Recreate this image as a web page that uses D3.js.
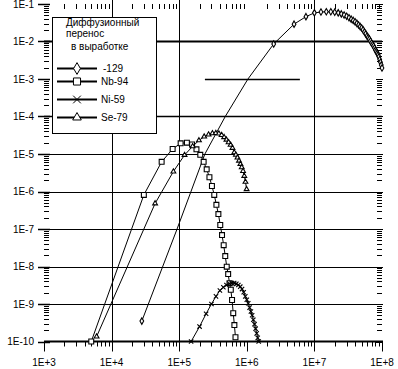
<!DOCTYPE html>
<html><head><meta charset="utf-8">
<script src="https://cdn.jsdelivr.net/npm/d3@7"></script>
<style>
body{margin:0;background:#fff;}
svg{display:block;font-family:"Liberation Sans",Arial,sans-serif;}
</style></head>
<body><svg id="c" width="398" height="369"></svg>
<script>
// ---- data ----
const xTickLabels = ["1E+3","1E+4","1E+5","1E+6","1E+7","1E+8"];
const xTickValues = [1e3,1e4,1e5,1e6,1e7,1e8];
const yTickLabels = ["1E-1","1E-2","1E-3","1E-4","1E-5","1E-6","1E-7","1E-8","1E-9","1E-10"];
const yTickValues = [1e-1,1e-2,1e-3,1e-4,1e-5,1e-6,1e-7,1e-8,1e-9,1e-10];

const legendTitle = ["Диффузионный","перенос","в выработке"];
const seriesNames = ["-129","Nb-94","Ni-59","Se-79"];

// I-129 (diamond); mark flag 1 = marker drawn
const i129X = [2.8e4,9.3e4,2.4e5,4.8e5,1.04e6,2.5e6,5e6,7.5e6,1e7,1.25e7,1.5e7,1.75e7,2e7,2.25e7,2.5e7,2.75e7,3e7,3.25e7,3.5e7,3.75e7,4e7,4.25e7,4.5e7,4.75e7,5e7,5.25e7,5.5e7,5.75e7,6e7,6.25e7,6.5e7,6.75e7,7e7,7.25e7,7.5e7,7.75e7,8e7,8.25e7,8.5e7,8.75e7,9e7,9.25e7,9.5e7,9.75e7,1e8];
const i129Y = [3.5e-10,1e-7,1e-5,1e-4,1e-3,8.6e-3,2.9e-2,4.6e-2,5.8e-2,6.1e-2,6.2e-2,6.2e-2,6.05e-2,5.8e-2,5.45e-2,5.1e-2,4.7e-2,4.3e-2,3.95e-2,3.65e-2,3.35e-2,3.05e-2,2.75e-2,2.5e-2,2.29e-2,2.05e-2,1.8e-2,1.6e-2,1.4e-2,1.28e-2,1.17e-2,1.03e-2,9.1e-3,8.3e-3,7.6e-3,6.7e-3,5.9e-3,5.4e-3,4.9e-3,4.4e-3,3.9e-3,3.3e-3,2.8e-3,2.35e-3,1.96e-3];
const i129Mark = [1,0,0,0,0,1,1,1,1,1,1,1,1,1,1,1,1,1,1,1,1,1,1,1,1,1,1,1,1,1,1,1,1,1,1,1,1,1,1,1,1,1,1,1,1];

// Nb-94 (square)
const nb94X = [5e3,3e4,5.5e4,8e4,1.05e5,1.3e5,1.55e5,1.8e5,2.05e5,2.3e5,2.55e5,2.8e5,3.05e5,3.3e5,3.55e5,3.8e5,4.05e5,4.3e5,4.55e5,4.8e5,5.05e5,5.3e5,5.55e5,5.8e5,6.05e5,6.3e5,6.55e5,6.8e5];
const nb94Y = [1e-10,8.1e-7,6.2e-6,1.36e-5,1.93e-5,2.0e-5,1.8e-5,1.33e-5,9.5e-6,6.2e-6,3.9e-6,2.4e-6,1.4e-6,8.1e-7,4.4e-7,2.5e-7,1.28e-7,6.9e-8,3.7e-8,1.9e-8,9.9e-9,6.3e-9,3.6e-9,2.4e-9,1.28e-9,5.7e-10,2.75e-10,1.3e-10];

// Ni-59 (cross)
const ni59X = [1.5e5,2e5,2.5e5,3e5,3.5e5,4e5,4.5e5,5e5,5.5e5,6e5,6.5e5,7e5,7.5e5,8e5,8.5e5,9e5,9.5e5,1e6,1.05e6,1.1e6,1.15e6,1.2e6,1.25e6,1.3e6,1.35e6,1.4e6,1.45e6,1.5e6];
const ni59Y = [1e-10,2.5e-10,5.5e-10,1.0e-9,1.6e-9,2.3e-9,2.8e-9,3.2e-9,3.5e-9,3.6e-9,3.6e-9,3.45e-9,3.2e-9,2.9e-9,2.5e-9,2.05e-9,1.6e-9,1.3e-9,1.05e-9,8e-10,6.3e-10,5e-10,3.8e-10,2.9e-10,2.2e-10,1.65e-10,1.25e-10,1.0e-10];

// Se-79 (triangle)
const se79X = [6e3,4.4e4,8.2e4,1.2e5,1.58e5,1.96e5,2.34e5,2.72e5,3.1e5,3.48e5,3.86e5,4.24e5,4.62e5,5.0e5,5.38e5,5.76e5,6.14e5,6.52e5,6.9e5,7.28e5,7.66e5,8.04e5,8.42e5,8.8e5,9.18e5,9.56e5,9.94e5];
const se79Y = [1.35e-10,4.8e-7,3.4e-6,9.4e-6,1.6e-5,2.3e-5,2.9e-5,3.3e-5,3.55e-5,3.6e-5,3.5e-5,3.2e-5,2.8e-5,2.4e-5,2.05e-5,1.75e-5,1.45e-5,1.1e-5,9.5e-6,8e-6,6.6e-6,5.4e-6,4.4e-6,3.5e-6,2.6e-6,1.8e-6,1.15e-6];

// ---- chart ----
const svg = d3.select("#c");
const x = d3.scaleLog().domain([1e3,1e8]).range([44,382]);
const y = d3.scaleLog().domain([1e-10,1e-1]).range([341.5,4]);

const g = svg.append("g");

// horizontal grid lines
const hGrid = [
  {v:1e-2, x0:1e3, x1:1e8, w:2},
  {v:1e-3, x0:2.4e5, x1:6.1e6, w:1.5},
  {v:1e-4, x0:1e3, x1:1e8, w:1.5},
  {v:1e-5, x0:1e3, x1:1e8, w:1},
  {v:1e-6, x0:1e3, x1:1e8, w:1},
  {v:1e-7, x0:1e3, x1:1e8, w:1},
  {v:1e-8, x0:1e3, x1:1e8, w:1},
  {v:1e-9, x0:1e3, x1:1e8, w:1}
];
g.selectAll("line.hg").data(hGrid).enter().append("line")
  .attr("x1",d=>x(d.x0)).attr("x2",d=>x(d.x1))
  .attr("y1",d=>Math.round(y(d.v))+0.5).attr("y2",d=>Math.round(y(d.v))+0.5)
  .attr("stroke","#000").attr("stroke-width",d=>d.w);

// vertical grid lines
const vGrid = [1e4,1e5,1e7];
g.selectAll("line.vg").data(vGrid).enter().append("line")
  .attr("x1",d=>Math.round(x(d))+0.5).attr("x2",d=>Math.round(x(d))+0.5)
  .attr("y1",0).attr("y2",y(1e-10))
  .attr("stroke","#000").attr("stroke-width",1);

// bottom axis line
g.append("line").attr("x1",x(1e3)).attr("x2",x(1e8)+1)
  .attr("y1",y(1e-10)).attr("y2",y(1e-10)).attr("stroke","#000").attr("stroke-width",2);

// minor tick positions
const xMinor = [], yMinor = [];
for (let e=3;e<8;e++) for (let m=2;m<10;m++) xMinor.push(m*Math.pow(10,e));
for (let e=-10;e<-1;e++) for (let m=2;m<10;m++) yMinor.push(m*Math.pow(10,e));

// bottom ticks (outside)
g.selectAll("line.bm").data(xMinor).enter().append("line")
  .attr("x1",d=>Math.round(x(d))+0.5).attr("x2",d=>Math.round(x(d))+0.5)
  .attr("y1",y(1e-10)).attr("y2",y(1e-10)+5).attr("stroke","#000");
g.selectAll("line.bM").data(xTickValues).enter().append("line")
  .attr("x1",d=>Math.round(x(d))+0.5).attr("x2",d=>Math.round(x(d))+0.5)
  .attr("y1",y(1e-10)).attr("y2",y(1e-10)+10).attr("stroke","#000");
// top ticks (inside)
g.selectAll("line.tm").data(xMinor).enter().append("line")
  .attr("x1",d=>Math.round(x(d))+0.5).attr("x2",d=>Math.round(x(d))+0.5)
  .attr("y1",4).attr("y2",9).attr("stroke","#000");
// left ticks
g.selectAll("line.lm").data(yMinor).enter().append("line")
  .attr("x1",x(1e3)).attr("x2",x(1e3)+5)
  .attr("y1",d=>Math.round(y(d))+0.5).attr("y2",d=>Math.round(y(d))+0.5).attr("stroke","#000");
g.selectAll("line.lM").data(yTickValues).enter().append("line")
  .attr("x1",x(1e3)-6).attr("x2",x(1e3)+6)
  .attr("y1",d=>Math.round(y(d))+0.5).attr("y2",d=>Math.round(y(d))+0.5).attr("stroke","#000").attr("stroke-width",1.5);
// right ticks
g.selectAll("line.rm").data(yMinor).enter().append("line")
  .attr("x1",x(1e8)-5).attr("x2",x(1e8))
  .attr("y1",d=>Math.round(y(d))+0.5).attr("y2",d=>Math.round(y(d))+0.5).attr("stroke","#000");
g.selectAll("line.rM").data(yTickValues).enter().append("line")
  .attr("x1",x(1e8)-6).attr("x2",x(1e8)+1)
  .attr("y1",d=>Math.round(y(d))+0.5).attr("y2",d=>Math.round(y(d))+0.5).attr("stroke","#000");

// tick labels
g.selectAll("text.yl").data(yTickValues).enter().append("text")
  .attr("x",34).attr("y",d=>y(d)+3.5).attr("text-anchor","end")
  .attr("font-size",10).text((d,i)=>yTickLabels[i]);
g.selectAll("text.xl").data(xTickValues).enter().append("text")
  .attr("x",d=>x(d)).attr("y",366).attr("text-anchor","middle")
  .attr("font-size",10).text((d,i)=>xTickLabels[i]);

// series
const symDiamond = d3.symbol().type(d3.symbolDiamond);
const symSquare = d3.symbol().type(d3.symbolSquare);
const symCross = d3.symbol().type(d3.symbolTimes);
const symTri = d3.symbol().type(d3.symbolTriangle);

const series = [
  {name:seriesNames[0], xs:i129X, ys:i129Y, mark:i129Mark, sym:symDiamond, size:12, leg:40},
  {name:seriesNames[1], xs:nb94X, ys:nb94Y, mark:null, sym:symSquare, size:24, leg:50},
  {name:seriesNames[2], xs:ni59X, ys:ni59Y, mark:null, sym:symCross, size:14, leg:40},
  {name:seriesNames[3], xs:se79X, ys:se79Y, mark:null, sym:symTri, size:10, leg:32}
];

const line = d3.line().x(d=>x(d[0])).y(d=>y(d[1]));
series.forEach(s=>{
  const pts = s.xs.map((v,i)=>[v,s.ys[i]]);
  g.append("path").attr("d",line(pts)).attr("fill","none").attr("stroke","#000").attr("stroke-width",1);
  const mp = pts.filter((p,i)=>!s.mark || s.mark[i]);
  g.selectAll(null).data(mp).enter().append("path")
    .attr("transform",d=>`translate(${x(d[0])},${y(d[1])})`)
    .attr("d",s.sym.size(s.size)())
    .attr("fill", s.sym===symCross ? "none" : "#fff")
    .attr("stroke","#000").attr("stroke-width",1.1);
});

// legend
const lg = svg.append("g");
lg.append("rect").attr("x",52.5).attr("y",17.5).attr("width",104).attr("height",116)
  .attr("fill","#fff").attr("stroke","#000").attr("stroke-width",1);
const titleY = [26,37,50], titleX = [66,66,71];
lg.selectAll("text.t").data(legendTitle).enter().append("text")
  .attr("x",(d,i)=>titleX[i]).attr("y",(d,i)=>titleY[i]).attr("font-size",10).text(d=>d);
const legY = [68.5,81.5,99.5,117.5];
series.forEach((s,i)=>{
  lg.append("line").attr("x1",57).attr("x2",97).attr("y1",legY[i]).attr("y2",legY[i])
    .attr("stroke","#000").attr("stroke-width",2);
  lg.append("path").attr("transform",`translate(77,${legY[i]})`)
    .attr("d",s.sym.size(s.leg)())
    .attr("fill", s.sym===symCross ? "none" : "#fff").attr("stroke","#000").attr("stroke-width",1);
  lg.append("text").attr("x",i===0?103:101).attr("y",legY[i]+3.5).attr("font-size",10).text(s.name);
});
</script></body></html>
